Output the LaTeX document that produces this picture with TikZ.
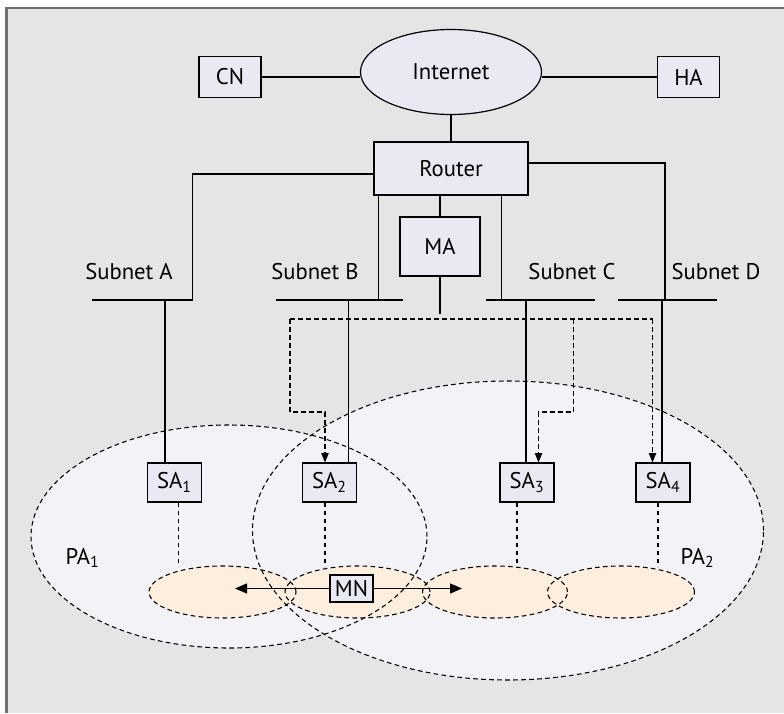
\documentclass[tikz,border=0pt]{standalone}
\usepackage{fontspec}
\setmainfont{PT Sans}
\usetikzlibrary{arrows.meta,calc,shapes.geometric}

\definecolor{bggray}{RGB}{229,229,229}
\definecolor{framegray}{RGB}{112,112,112}
\definecolor{boxfill}{RGB}{232,233,242}
\definecolor{pafill}{RGB}{243,243,247}
\definecolor{cellfill}{RGB}{253,238,222}

\tikzset{
  lbl/.style={inner sep=0pt, font=\fontsize{17}{20}\selectfont},
  netbox/.style={lbl, draw, fill=boxfill, line width=0.9pt},
  wire/.style={line width=1pt},
  signal/.style={line width=0.8pt, dash pattern=on 3.5pt off 2.5pt, -{Triangle[length=7pt,width=5.5pt]}},
  zoneline/.style={line width=0.8pt, dash pattern=on 3.5pt off 2.5pt},
  move/.style={line width=1pt, -{Triangle[length=9pt,width=7.5pt]}},
}

\begin{document}
\begin{tikzpicture}[x=0.75pt,y=0.75pt,yscale=-1,xscale=1]
\useasboundingbox (0,0) rectangle (784,713);
% frame
\fill[bggray] (6.5,7.7) rectangle (784,713);
\draw[framegray, line width=1.7pt] (6.5,713) -- (6.5,7.7) -- (784,7.7);

% paging areas and cells, fills first
\foreach \n/\x/\y/\w/\h/\c in {pa1/229/536.5/297/167.25/pafill, pa2/508/530.5/383.25/224.25/pafill,
    cell1/222.5/592/110.25/39/cellfill, cell2/357.5/592/108.75/39/cellfill,
    cell3/495/592/108.75/39/cellfill, cell4/621/592/110.25/39/cellfill}
  \node[ellipse, fill=\c, inner sep=0pt, minimum width=\w pt, minimum height=\h pt] (\n) at (\x,\y) {};
% outlines on top
\foreach \n/\x/\y/\w/\h in {pa1/229/536.5/297/167.25, pa2/508/530.5/383.25/224.25,
    cell1/222.5/592/110.25/39, cell2/357.5/592/108.75/39,
    cell3/495/592/108.75/39, cell4/621/592/110.25/39}
  \node[ellipse, zoneline, draw, inner sep=0pt, minimum width=\w pt, minimum height=\h pt] at (\x,\y) {};

% core network
\node[netbox, ellipse, minimum width=135.75pt, minimum height=63.75pt] (inet) at (451,72) {Internet};
\node[netbox, minimum width=46.5pt, minimum height=30.75pt] (cn) at (230,77) {CN};
\node[netbox, minimum width=46.5pt, minimum height=30.75pt] (ha) at (688.5,77) {HA};
\node[netbox, minimum width=115.5pt, minimum height=39.75pt] (router) at (451,168.5) {Router};
\node[netbox, minimum width=60pt, minimum height=44.25pt] (ma) at (440,246.5) {MA};

\draw[wire] (cn.east) -- (cn.east -| inet.west);
\draw[wire] (ha.west) -- (ha.west -| inet.east);
\draw[wire] (inet.south) -- (router.north);

% subnets
\coordinate (busA1) at (92,300);    \coordinate (busA2) at (192.5,300);
\coordinate (busB1) at (275.5,300); \coordinate (busB2) at (402.5,300);
\coordinate (busC1) at (485.5,300); \coordinate (busC2) at (595,300);
\coordinate (busD1) at (617.5,300); \coordinate (busD2) at (716.5,300);
\coordinate (tapB) at (378.5,300);  \coordinate (tapC) at (501.5,300);
\coordinate (tapD) at (665,300);
\draw[wire] (busA1) -- (busA2);
\draw[wire] (busB1) -- (busB2);
\draw[wire] (busC1) -- (busC2);
\draw[wire] (busD1) -- (busD2);

\node[lbl] (subA) at (129,272) {Subnet A};
\node[lbl] (subB) at (315,272) {Subnet B};
\node[lbl] (subC) at (572,272) {Subnet C};
\node[lbl] (subD) at (716,272) {Subnet D};

\draw[wire] ($(router.west)+(0,5.5)$) -| (busA2);
\draw[wire] ($(router.east)+(0,-5.5)$) -| (tapD);
\draw[wire] (router.south -| tapB) -- (tapB);
\draw[wire] (router.south -| tapC) -- (tapC);
\draw[wire] (router.south -| ma.north) -- (ma.north);

% serving agents
\node[netbox, minimum width=40.5pt, minimum height=29.25pt] (sa1) at (174.5,482.5) {SA\textsubscript{1}};
\node[netbox, minimum width=40.5pt, minimum height=29.25pt] (sa2) at (329.5,482.5) {SA\textsubscript{2}};
\node[netbox, minimum width=40.5pt, minimum height=29.25pt] (sa3) at (527,482.5) {SA\textsubscript{3}};
\node[netbox, minimum width=40.5pt, minimum height=29.25pt] (sa4) at (663,482.5) {SA\textsubscript{4}};

\coordinate (dropA) at (165,300);
\coordinate (dropB) at (348.5,300);
\coordinate (dropC) at (526,300);
\coordinate (dropD) at (662,300);
\draw[wire] (dropA) -- (dropA |- sa1.north);
\draw[wire] (dropB) -- (dropB |- sa2.north);
\draw[wire] (dropC) -- (dropC |- sa3.north);
\draw[wire] (dropD) -- (dropD |- sa4.north);

% MA signalling
\coordinate (maTail) at (440,314);
\coordinate (mcL) at (290,319);
\coordinate (mcM) at (573.5,319);
\coordinate (mcR) at (652.5,319);
\draw[wire] (ma.south) -- (maTail);
\draw[zoneline] (mcL) -- (mcR);
\draw[signal] (mcL) -- ++(0,93) -| ($(sa2.north)+(-4.5,0)$);
\draw[signal] (mcM) -- ++(0,93) -| ($(sa3.north)+(11.5,0)$);
\draw[signal] (mcR) -- (mcR |- sa4.north);

% SA to cells
\draw[zoneline] ($(sa1.south)+(4,0)$) -- ++(0,64);
\draw[zoneline] ($(sa2.south)+(-4.5,0)$) -- ++(0,64);
\draw[zoneline] ($(sa3.south)+(-10,0)$) -- ++(0,64);
\draw[zoneline] ($(sa4.south)+(-5,0)$) -- ++(0,64);

\node[lbl] (pa1lbl) at (82.5,558) {PA\textsubscript{1}};
\node[lbl] (pa2lbl) at (697.5,558) {PA\textsubscript{2}};

% mobile node
\node[netbox, minimum width=32.25pt, minimum height=20.25pt] (mn) at (351.5,588.5) {MN};
\coordinate (mnL) at (235,588.5);
\coordinate (mnR) at (462,588.5);
\draw[move] (mn.west) -- (mnL);
\draw[move] (mn.east) -- (mnR);
\end{tikzpicture}
\end{document}
